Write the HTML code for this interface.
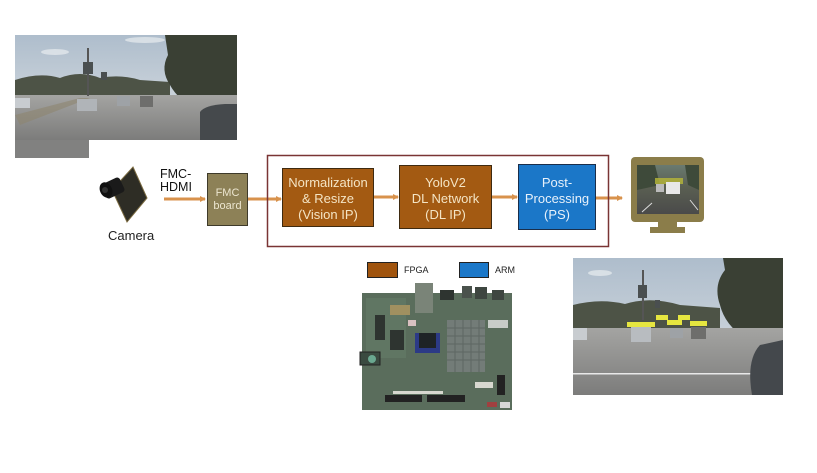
<!DOCTYPE html>
<html><head><meta charset="utf-8"><style>
html,body{margin:0;padding:0;background:#fff;}
svg{display:block;}
text{font-family:"Liberation Sans",Arial,sans-serif;}
</style></head><body>
<svg width="817" height="473" viewBox="0 0 817 473" xmlns="http://www.w3.org/2000/svg">
<defs>
<linearGradient id="sky1" x1="0" y1="0" x2="0" y2="1"><stop offset="0" stop-color="#aebdcc"/><stop offset="1" stop-color="#dde1e4"/></linearGradient>
<linearGradient id="road1" x1="0" y1="0" x2="0" y2="1"><stop offset="0" stop-color="#a4a4a2"/><stop offset="1" stop-color="#7c7c7b"/></linearGradient>
<linearGradient id="scr" x1="0" y1="0" x2="0" y2="1"><stop offset="0" stop-color="#6a7a70"/><stop offset="0.45" stop-color="#5a5f52"/><stop offset="1" stop-color="#4a4a4a"/></linearGradient>
<marker id="ah" markerWidth="6" markerHeight="6" refX="5" refY="3" orient="auto" markerUnits="userSpaceOnUse"><path d="M0,0 L6,3 L0,6 z" fill="#d8924c"/></marker>
</defs>
<rect width="817" height="473" fill="#fff"/>

<!-- top-left photo -->
<g>
<rect x="15" y="35" width="222" height="105" fill="url(#sky1)"/>
<ellipse cx="55" cy="52" rx="14" ry="3" fill="#e8ecef" opacity="0.7"/>
<ellipse cx="145" cy="40" rx="20" ry="3" fill="#e8ecef" opacity="0.7"/>
<path d="M15,80 Q40,72 60,78 Q80,70 100,78 Q120,74 140,80 L170,82 L170,100 L15,100 z" fill="#4d5346"/>
<path d="M165,35 L237,35 L237,118 L200,112 Q178,100 170,85 Q160,70 168,55 z" fill="#3a4034"/>
<rect x="15" y="95" width="222" height="45" fill="url(#road1)"/>
<path d="M15,115 L80,98 L90,98 L20,125 z" fill="#8e8670" opacity="0.6"/>
<rect x="87" y="48" width="2" height="48" fill="#555"/>
<rect x="83" y="62" width="10" height="12" fill="#4a4f50"/>
<rect x="101" y="72" width="6" height="8" fill="#4a4f50"/>
<rect x="15" y="98" width="15" height="10" fill="#c8ccd0"/>
<rect x="77" y="99" width="20" height="12" fill="#b0b4b8"/>
<rect x="117" y="96" width="13" height="10" fill="#9ea2a6"/>
<rect x="140" y="96" width="13" height="11" fill="#6e6e6c"/>
<path d="M200,112 Q205,105 225,104 L237,104 L237,140 L200,140 z" fill="#45494c"/>
<rect x="15" y="140" width="74" height="18" fill="#818180"/>
</g>

<!-- camera -->
<g>
<polygon points="133,167 147,198 127,222 112,190" fill="#2e2d25" stroke="#7a6a40" stroke-width="1"/>
<rect x="103" y="180" width="20" height="16" rx="3" fill="#1a1a1a" transform="rotate(-25 113 188)"/>
<ellipse cx="106" cy="190" rx="6" ry="8" fill="#111" transform="rotate(-25 106 190)"/>
<circle cx="105" cy="190" r="3" fill="#333"/>
</g>
<text x="108" y="240" font-size="13" fill="#222">Camera</text>
<text x="160" y="178" font-size="12.5" fill="#111">FMC-</text>
<text x="160" y="191" font-size="12.5" fill="#111">HDMI</text>

<!-- arrows -->
<g stroke="#d8924c" stroke-width="3" fill="none">
<line x1="164" y1="199" x2="205" y2="199" marker-end="url(#ah)"/>
<line x1="247" y1="199" x2="281" y2="199" marker-end="url(#ah)"/>
<line x1="373" y1="197" x2="398" y2="197" marker-end="url(#ah)"/>
<line x1="492" y1="197" x2="517" y2="197" marker-end="url(#ah)"/>
<line x1="596" y1="198" x2="622" y2="198" marker-end="url(#ah)"/>
</g>

<!-- FMC board -->
<rect x="207.5" y="173.5" width="40" height="52" fill="#8d8157" stroke="#3e3a2a" stroke-width="1"/>
<text x="227.5" y="196" font-size="11" fill="#ece6d0" text-anchor="middle">FMC</text>
<text x="227.5" y="209" font-size="11" fill="#ece6d0" text-anchor="middle">board</text>

<!-- red outer border -->
<rect x="267.5" y="155.5" width="341" height="91" fill="none" stroke="#7a3434" stroke-width="1.5"/>

<!-- Normalization -->
<rect x="282.5" y="168.5" width="91" height="58" fill="#a35a12" stroke="#3e2a10" stroke-width="1"/>
<text x="328" y="187" font-size="13" fill="#f4e4c4" text-anchor="middle">Normalization</text>
<text x="328" y="203" font-size="13" fill="#f4e4c4" text-anchor="middle">&amp; Resize</text>
<text x="328" y="219" font-size="13" fill="#f4e4c4" text-anchor="middle">(Vision IP)</text>

<!-- YoloV2 -->
<rect x="399.5" y="165.5" width="92" height="63" fill="#a35a12" stroke="#3e2a10" stroke-width="1"/>
<text x="445.5" y="187" font-size="13" fill="#f4e4c4" text-anchor="middle">YoloV2</text>
<text x="445.5" y="203" font-size="13" fill="#f4e4c4" text-anchor="middle">DL Network</text>
<text x="445.5" y="219" font-size="13" fill="#f4e4c4" text-anchor="middle">(DL IP)</text>

<!-- Post-processing -->
<rect x="518.5" y="164.5" width="77" height="65" fill="#1b77c8" stroke="#1a2e4a" stroke-width="1"/>
<text x="557" y="187" font-size="13" fill="#e8f1fa" text-anchor="middle">Post-</text>
<text x="557" y="203" font-size="13" fill="#e8f1fa" text-anchor="middle">Processing</text>
<text x="557" y="219" font-size="13" fill="#e8f1fa" text-anchor="middle">(PS)</text>

<!-- monitor -->
<g>
<rect x="631" y="157" width="73" height="65" rx="4" fill="#8b7d4a"/>
<rect x="637" y="165" width="62" height="49" fill="url(#scr)"/>
<path d="M637,165 L655,165 L660,185 L637,190 z" fill="#3e4a3a"/>
<path d="M685,165 L699,165 L699,190 L688,185 z" fill="#3e4a3a"/>
<rect x="655" y="178" width="28" height="6" fill="#b8b838" opacity="0.8"/>
<rect x="666" y="182" width="14" height="12" fill="#e8e8e8"/>
<rect x="656" y="184" width="8" height="8" fill="#bbb"/>
<line x1="642" y1="212" x2="652" y2="203" stroke="#ddd" stroke-width="1"/>
<line x1="690" y1="200" x2="698" y2="210" stroke="#ddd" stroke-width="1"/>
<rect x="658" y="222" width="19" height="6" fill="#8b7d4a"/>
<rect x="650" y="227" width="35" height="6" fill="#8b7d4a"/>
</g>

<!-- legend -->
<rect x="367.5" y="262.5" width="30" height="15" fill="#a0540e" stroke="#222" stroke-width="1"/>
<text x="404" y="273" font-size="9" fill="#222">FPGA</text>
<rect x="459.5" y="262.5" width="29" height="15" fill="#1b78c9" stroke="#222" stroke-width="1"/>
<text x="495" y="273" font-size="9" fill="#222">ARM</text>

<!-- PCB board -->
<g>
<rect x="362" y="293" width="150" height="117" fill="#5a6d5c"/>
<rect x="366" y="298" width="40" height="60" fill="#627865" opacity="0.8"/>
<rect x="390" y="305" width="20" height="10" fill="#a09060"/>
<rect x="415" y="283" width="18" height="30" fill="#7a8478"/>
<rect x="440" y="290" width="14" height="10" fill="#2e3430"/>
<rect x="462" y="286" width="10" height="12" fill="#4a524c"/>
<rect x="475" y="287" width="12" height="12" fill="#3e4640"/>
<rect x="492" y="290" width="12" height="10" fill="#3e4640"/>
<rect x="447" y="320" width="38" height="52" fill="#737c78"/>
<g stroke="#5e6662" stroke-width="1">
<line x1="447" y1="328" x2="485" y2="328"/><line x1="447" y1="336" x2="485" y2="336"/><line x1="447" y1="344" x2="485" y2="344"/><line x1="447" y1="352" x2="485" y2="352"/><line x1="447" y1="360" x2="485" y2="360"/>
<line x1="455" y1="320" x2="455" y2="372"/><line x1="463" y1="320" x2="463" y2="372"/><line x1="471" y1="320" x2="471" y2="372"/><line x1="479" y1="320" x2="479" y2="372"/>
</g>
<rect x="415" y="333" width="25" height="20" fill="#2c3a86"/>
<rect x="419" y="333" width="17" height="15" fill="#1e2326"/>
<rect x="408" y="320" width="8" height="6" fill="#d8c0c0"/>
<rect x="375" y="315" width="10" height="25" fill="#2e3430"/>
<rect x="390" y="330" width="14" height="20" fill="#2e3430"/>
<rect x="488" y="320" width="20" height="8" fill="#c8ccc8"/>
<rect x="360" y="352" width="20" height="13" fill="#3a4a40" stroke="#222" stroke-width="1"/>
<circle cx="372" cy="359" r="4" fill="#6aa890"/>
<rect x="385" y="395" width="37" height="7" fill="#222"/>
<rect x="427" y="395" width="38" height="7" fill="#222"/>
<rect x="393" y="391" width="50" height="3" fill="#d8d8d0"/>
<rect x="475" y="382" width="18" height="6" fill="#d8d8d0"/>
<rect x="497" y="375" width="8" height="20" fill="#222"/>
<rect x="487" y="402" width="10" height="5" fill="#a04040"/>
<rect x="500" y="402" width="10" height="6" fill="#d8d8d8"/>
</g>

<!-- bottom-right photo -->
<g>
<rect x="573" y="258" width="210" height="137" fill="url(#sky1)"/>
<ellipse cx="600" cy="273" rx="12" ry="3" fill="#e8ecef" opacity="0.7"/>
<path d="M573,305 Q600,298 625,304 Q650,296 680,305 L720,308 L720,332 L573,332 z" fill="#4d5346"/>
<path d="M723,258 L783,258 L783,345 L745,338 Q725,325 720,305 Q713,285 725,270 z" fill="#3a4034"/>
<rect x="573" y="328" width="210" height="67" fill="url(#road1)"/>
<rect x="642" y="270" width="2" height="50" fill="#555"/>
<rect x="638" y="285" width="9" height="13" fill="#4a4f50"/>
<rect x="655" y="300" width="5" height="8" fill="#4a4f50"/>
<rect x="573" y="328" width="14" height="12" fill="#c8ccd0"/>
<rect x="631" y="327" width="20" height="15" fill="#b8bcc0"/>
<rect x="670" y="328" width="13" height="10" fill="#9ea2a6"/>
<rect x="691" y="327" width="15" height="12" fill="#6e6e6c"/>
<rect x="627" y="322" width="28" height="5" fill="#e6e640"/>
<rect x="656" y="315" width="12" height="5" fill="#e6e640"/>
<rect x="667" y="320" width="15" height="5" fill="#e6e640"/>
<rect x="678" y="315" width="12" height="5" fill="#e6e640"/>
<rect x="690" y="321" width="17" height="5" fill="#e6e640"/>
<rect x="573" y="373" width="185" height="1.5" fill="#e8e8e8"/>
<path d="M752,395 Q746,360 760,345 L783,340 L783,395 z" fill="#44484c"/>
</g>
</svg>
</body></html>
